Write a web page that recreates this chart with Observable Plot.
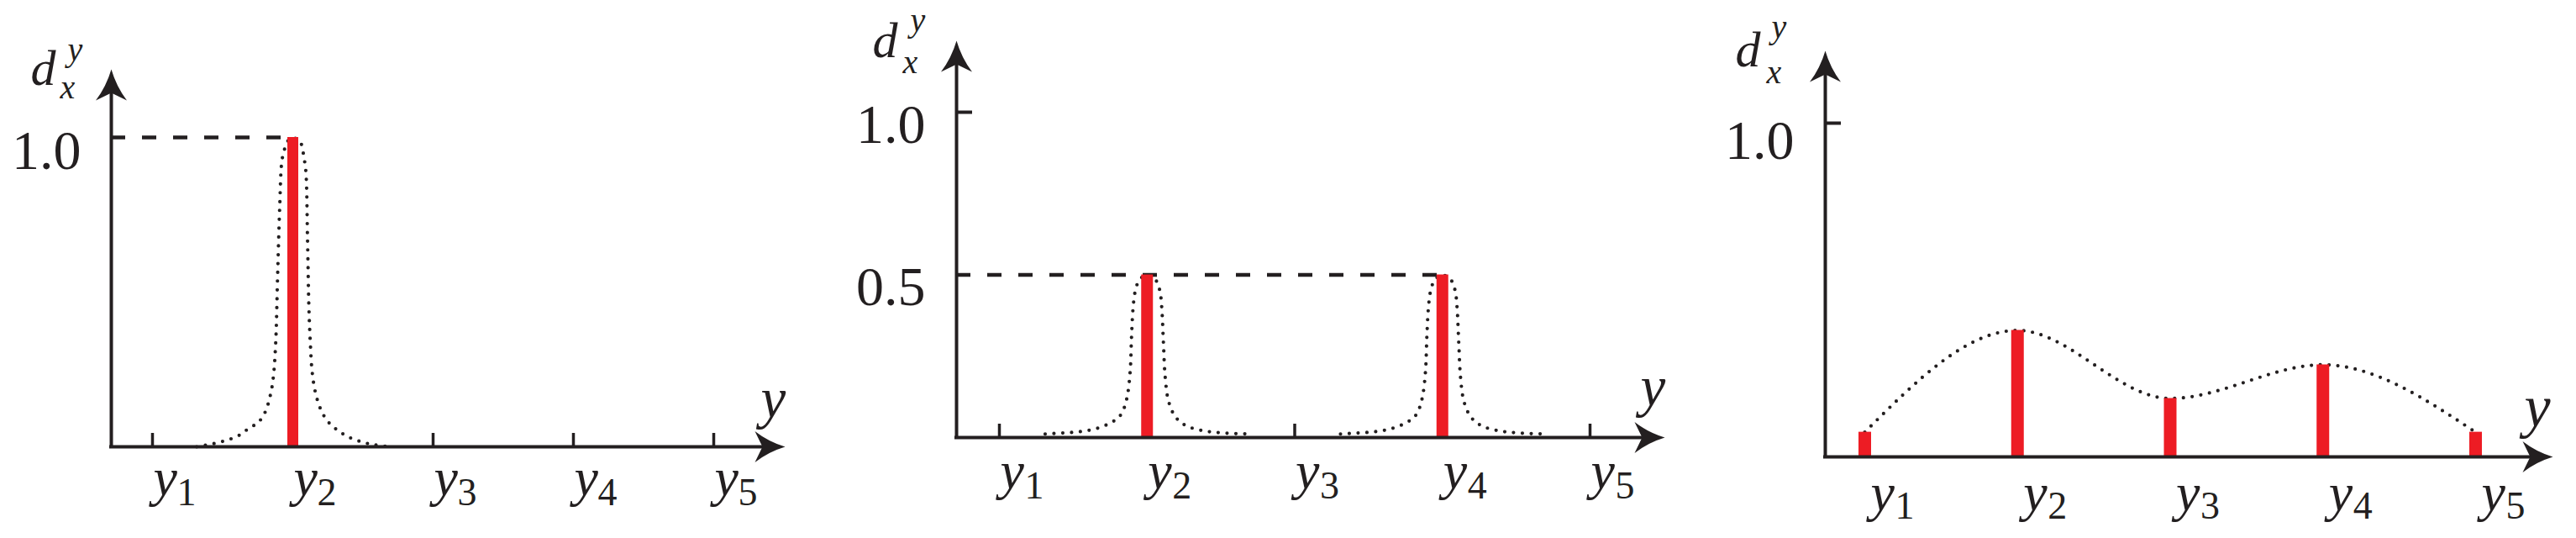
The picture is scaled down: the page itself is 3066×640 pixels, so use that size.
<!DOCTYPE html>
<html>
<head>
<meta charset="utf-8">
<script src="https://cdn.jsdelivr.net/npm/d3@7"></script>
<script src="https://cdn.jsdelivr.net/npm/@observablehq/plot@0.6"></script>
<style>
html, body { margin: 0; padding: 0; background: #fff; }
#wrap { position: relative; width: 3066px; height: 640px; overflow: hidden; background: #fff; }
#wrap > div { position: absolute; top: 0; }
</style>
</head>
<body>
<div id="wrap"></div>
<script>
// ---------------- data ----------------
const positions = [1, 2, 3, 4, 5];                 // y1 ... y5
const subscripts = ["1", "2", "3", "4", "5"];      // tick label subscripts

const p1Bars = [0, 1.0, 0, 0, 0];
const p2Bars = [0, 0.5, 0, 0.5, 0];
const p3Bars = [0.074, 0.379, 0.175, 0.276, 0.074];

const p1TickValues = [1.0];       const p1TickText = ["1.0"];
const p2TickValues = [1.0, 0.5];  const p2TickText = ["1.0", "0.5"];
const p3TickValues = [1.0];       const p3TickText = ["1.0"];

const p1AxisTicks = [];      // small ticks drawn on the vertical axis
const p2AxisTicks = [1.0];
const p3AxisTicks = [1.0];

// dotted peak shapes: offset from peak centre, height
const p1PeakOffset = [-0.685,-0.587,-0.489,-0.391,-0.318,-0.244,-0.196,-0.159,-0.139,-0.122,-0.108,-0.093,-0.078,-0.059,-0.034,0,0.034,0.061,0.078,0.093,0.105,0.115,0.125,0.137,0.159,0.196,0.244,0.306,0.391,0.489,0.587,0.685];
const p1PeakValue  = [0,0.008,0.019,0.035,0.058,0.080,0.113,0.169,0.224,0.335,0.557,0.779,0.923,0.962,0.989,1.0,0.992,0.978,0.939,0.890,0.668,0.446,0.335,0.246,0.180,0.124,0.085,0.058,0.033,0.016,0.006,0];

const p2PeakOffset = [-0.69,-0.574,-0.457,-0.341,-0.248,-0.19,-0.156,-0.132,-0.114,-0.105,-0.095,-0.081,-0.058,-0.028,0,0.03,0.065,0.088,0.1,0.111,0.123,0.146,0.193,0.262,0.379,0.518,0.692];
const p2PeakValue  = [0.011,0.014,0.018,0.028,0.045,0.063,0.09,0.132,0.206,0.311,0.396,0.448,0.48,0.495,0.5,0.495,0.48,0.448,0.396,0.29,0.185,0.111,0.063,0.037,0.021,0.014,0.011];

// ---------------- styles / layout ----------------
const INK = "#231f20";
const RED = "#ed1c24";
const FONT = "Liberation Serif";

const layouts = [
  {left: 0, width: 1000, axisPx: 132, tick1Px: 181, stepPx: 167, basePx: 531, unitPx: 368,
   xTipPx: 934, yTipPx: 82, barW: 13,
   val: [-36, 37], tick: [1, 57, 29, 69], d: [-96, 18], sup: [-52, -11], sub: [-61, 34], name: [-29, -35], nameSize: 67},
  {left: 1000, width: 1020, axisPx: 1138, tick1Px: 1189, stepPx: 175.75, basePx: 520, unitPx: 387,
   xTipPx: 1981, yTipPx: 48, barW: 14,
   val: [-37, 36], tick: [1, 60, 30, 72], d: [-100, 19], sup: [-55, -12], sub: [-64, 38], name: [-29, -38], nameSize: 67},
  {left: 2020, width: 1046, axisPx: 2172, tick1Px: 2219, stepPx: 181.75, basePx: 543, unitPx: 397,
   xTipPx: 3038, yTipPx: 60, barW: 15,
   val: [-37, 42], tick: [7, 63, 36, 73], d: [-107, 18], sup: [-64, -16], sub: [-70, 38], name: [-34, -37], nameSize: 70}
];

const panels = [
  {bars: p1Bars, tickValues: p1TickValues, tickText: p1TickText, axisTicks: p1AxisTicks, guide: true,
   peakOffset: p1PeakOffset, peakValue: p1PeakValue},
  {bars: p2Bars, tickValues: p2TickValues, tickText: p2TickText, axisTicks: p2AxisTicks, guide: true,
   peakOffset: p2PeakOffset, peakValue: p2PeakValue},
  {bars: p3Bars, tickValues: p3TickValues, tickText: p3TickText, axisTicks: p3AxisTicks, guide: false,
   peakOffset: null, peakValue: null}
];

// stealth-style filled arrowheads (tip at the anchor point)
const arrowUp = {draw(ctx) {
  const w = 18.5, h = 37, n = 28;
  ctx.moveTo(0, 0);
  ctx.quadraticCurveTo(w * 0.32, h * 0.55, w, h);
  ctx.lineTo(0, n);
  ctx.lineTo(-w, h);
  ctx.quadraticCurveTo(-w * 0.32, h * 0.55, 0, 0);
  ctx.closePath();
}};
const arrowRight = {draw(ctx) {
  const w = 18.5, h = 36, n = 27;
  ctx.moveTo(0, 0);
  ctx.quadraticCurveTo(-h * 0.55, w * 0.32, -h, w);
  ctx.lineTo(-n, 0);
  ctx.lineTo(-h, -w);
  ctx.quadraticCurveTo(-h * 0.55, -w * 0.32, 0, 0);
  ctx.closePath();
}};

function drawPanel(P, L) {
  const toX = px => 1 + (px - L.tick1Px) / L.stepPx;
  const toY = px => (L.basePx - px) / L.unitPx;
  const pxX = 1 / L.stepPx, pxY = 1 / L.unitPx;
  const origin = toX(L.axisPx);
  const xTip = toX(L.xTipPx);
  const yTip = toY(L.yTipPx);

  const bars = positions.map((x, i) => ({x, v: P.bars[i]})).filter(d => d.v > 0);

  let curve = [], curveType;
  if (P.peakOffset) {
    bars.forEach((b, k) => P.peakOffset.forEach((o, j) => curve.push({x: b.x + o, y: P.peakValue[j], z: k})));
    curveType = "catmull-rom";
  } else {
    curve = positions.map((x, i) => ({x, y: P.bars[i], z: 0}));
    curveType = "monotone-x";
  }

  const txt = {fontFamily: FONT, fill: INK, textAnchor: "start", lineAnchor: "bottom"};
  const marks = [];
  if (P.guide) {
    const level = d3.max(P.bars);
    const guideX = positions[P.bars.lastIndexOf(level)];
    marks.push(Plot.ruleY([level], {y: d => d, x1: origin, x2: guideX, stroke: INK, strokeWidth: 4.5, strokeDasharray: "17 20"}));
  }
  marks.push(
    Plot.line(curve, {x: "x", y: "y", z: "z", curve: curveType, stroke: INK, strokeWidth: 4.2,
      strokeDasharray: "0 10.5", strokeLinecap: "round"}),
    Plot.ruleX(positions, {x: d => d, y1: 0, y2: 16 * pxY, stroke: INK, strokeWidth: 3.5}),
    Plot.ruleY(P.axisTicks, {y: d => d, x1: origin, x2: origin + 19 * pxX, stroke: INK, strokeWidth: 4}),
    Plot.ruleX(bars, {x: "x", y1: 0, y2: "v", stroke: RED, strokeWidth: L.barW}),
    Plot.ruleX([origin], {x: d => d, y1: -2 * pxY, y2: yTip - 22 * pxY, stroke: INK, strokeWidth: 4}),
    Plot.ruleY([0], {y: d => d, x1: origin - 2 * pxX, x2: xTip - 22 * pxX, stroke: INK, strokeWidth: 4}),
    Plot.dot([{x: origin, y: yTip}], {x: "x", y: "y", symbol: arrowUp, fill: INK, stroke: "none"}),
    Plot.dot([{x: xTip, y: 0}], {x: "x", y: "y", symbol: arrowRight, fill: INK, stroke: "none"}),
    // value labels on the vertical axis
    Plot.text(P.tickValues.map((v, i) => ({y: v, t: P.tickText[i]})), {...txt,
      x: () => origin, y: "y", text: "t", textAnchor: "end",
      dx: L.val[0], dy: L.val[1], fontSize: 66}),
    // tick labels y_i
    Plot.text(positions, {...txt, x: d => d, y: () => 0, text: () => "y",
      dx: L.tick[0], dy: L.tick[1], fontSize: 64, fontStyle: "italic"}),
    Plot.text(positions, {...txt, x: d => d, y: () => 0, text: (d, i) => subscripts[i],
      dx: L.tick[2], dy: L.tick[3], fontSize: 46}),
    // vertical axis name d_x^y
    Plot.text([{x: origin, y: yTip}], {...txt, x: "x", y: "y", text: () => "d",
      dx: L.d[0], dy: L.d[1], fontSize: 60, fontStyle: "italic"}),
    Plot.text([{x: origin, y: yTip}], {...txt, x: "x", y: "y", text: () => "y",
      dx: L.sup[0], dy: L.sup[1], fontSize: 40, fontStyle: "italic"}),
    Plot.text([{x: origin, y: yTip}], {...txt, x: "x", y: "y", text: () => "x",
      dx: L.sub[0], dy: L.sub[1], fontSize: 40, fontStyle: "italic"}),
    // horizontal axis name
    Plot.text([{x: xTip, y: 0}], {...txt, x: "x", y: "y", text: () => "y",
      dx: L.name[0], dy: L.name[1], fontSize: L.nameSize, fontStyle: "italic"})
  );

  return Plot.plot({
    width: L.width,
    height: 640,
    margin: 0,
    x: {type: "linear", domain: [1, 5], range: [L.tick1Px - L.left, L.tick1Px + 4 * L.stepPx - L.left], axis: null},
    y: {type: "linear", domain: [0, 1], range: [L.basePx, L.basePx - L.unitPx], axis: null},
    style: {background: "transparent", maxWidth: "none", overflow: "visible"},
    marks
  });
}

const wrap = document.getElementById("wrap");
panels.forEach((P, i) => {
  const L = layouts[i];
  const holder = document.createElement("div");
  holder.style.left = L.left + "px";
  holder.style.width = L.width + "px";
  holder.appendChild(drawPanel(P, L));
  wrap.appendChild(holder);
});
</script>
</body>
</html>
